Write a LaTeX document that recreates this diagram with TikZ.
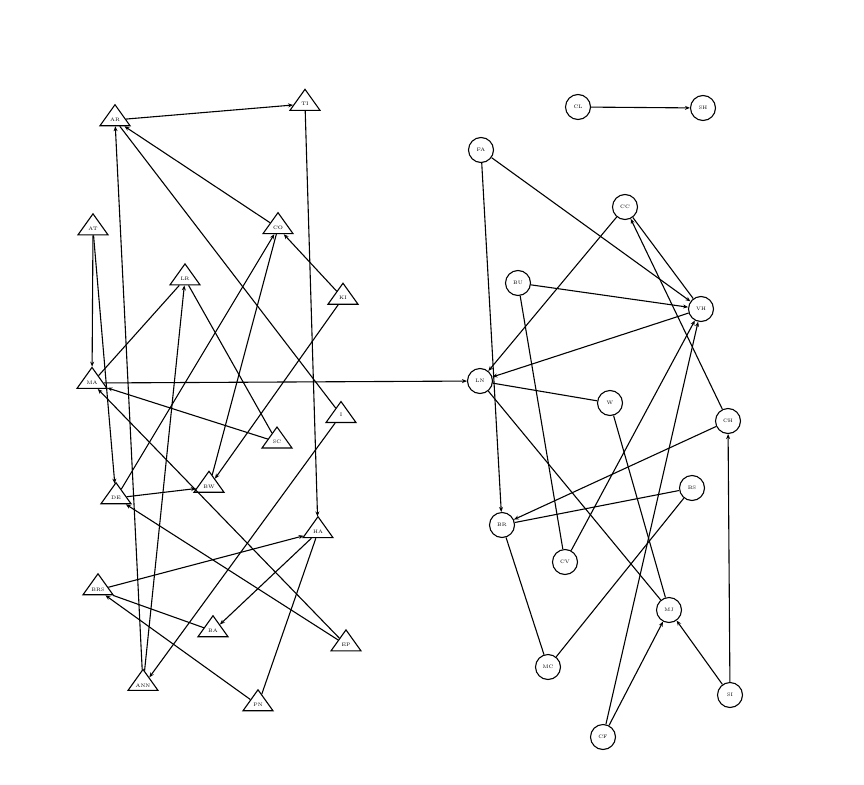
\documentclass[tikz,border=0pt]{standalone}
\usetikzlibrary{shapes.geometric,arrows.meta}
\begin{document}
\begin{tikzpicture}[x=1pt,y=-1pt]
	\useasboundingbox (0,0) rectangle (864,784);
	\begin{scope}
		[
			boy/.style={
				draw, line width=1.1pt, isosceles triangle,
				shape border rotate=90, isosceles triangle apex angle=75,
				isosceles triangle stretches, minimum width=30pt,
				minimum height=21pt, inner sep=0pt, font=\tiny
				},
			girl/.style={draw, circle, line width=1.1pt, minimum size=25pt,
				inner sep=0pt, font=\tiny},
		]
		\node(ar)[boy] at (115,120) {AR};
		\node(ti)[boy] at (305,104) {TI};
		\node(at)[boy] at (93,229) {AT};
		\node(co)[boy] at (278,228) {CO};
		\node(lr)[boy] at (185,279) {LR};
		\node(ki)[boy] at (343,298) {KI};
		\node(ma)[boy] at (92,383) {MA};
		\node(iv)[boy] at (341,415) {I};
		\node(sc)[boy] at (277,442) {SC};
		\node(de)[boy] at (116,498) {DE};
		\node(bw)[boy] at (209,487) {BW};
		\node(ha)[boy] at (318,532) {HA};
		\node(brs)[boy] at (98,590) {BRS};
		\node(ba)[boy] at (213,631) {BA};
		\node(ep)[boy] at (346,645) {EP};
		\node(ann)[boy] at (143,686) {ANN};
		\node(pn)[boy] at (258,705) {PN};

		\node(cl)[girl] at (578,107) {CL};
		\node(sh)[girl] at (703,108) {SH};
		\node(fa)[girl] at (481,150) {FA};
		\node(cc)[girl] at (625,207) {CC};
		\node(bu)[girl] at (518,283) {BU};
		\node(vh)[girl] at (701,309) {VH};
		\node(ln)[girl] at (480,381) {LN};
		\node(w)[girl] at (610,403) {W};
		\node(ch)[girl] at (728,421) {CH};
		\node(bs)[girl] at (692,488) {BS};
		\node(br)[girl] at (502,525) {BR};
		\node(cv)[girl] at (565,562) {CV};
		\node(mj)[girl] at (669,610) {MJ};
		\node(mc)[girl] at (548,667) {MC};
		\node(si)[girl] at (730,695) {SI};
		\node(cf)[girl] at (603,737) {CF};
	\end{scope}
	\begin{scope}
		[ vote/.style = {-{Stealth[length=5pt,width=4pt]}},
		tie/.style = {-}, line width=1.1pt]
		\path
		(ar) edge[vote]		(ti)
		(ti) edge[vote]		(ha)
		(co) edge[vote]		(ar)
		(ar) edge[tie]		(iv)
		(ann) edge[vote]	(ar)
		(ann) edge[vote]	(lr)
		(at) edge[vote]		(ma)
		(at) edge[vote]		(de)
		(ma) edge[tie]		(lr)
		(ma) edge[vote]		(ln)
		(sc) edge[vote]		(ma)
		(ep) edge[vote]		(ma)
		(ep) edge[vote]		(de)
		(de) edge[vote]		(bw)
		(de) edge[vote]		(co)
		(bw) edge[tie]		(co)
		(ki) edge[vote]		(bw)
		(ki) edge[vote]		(co)
		(lr) edge[tie]		(sc)
		(iv) edge[vote]		(ann)
		(brs) edge[vote]	(ha)
		(ha) edge[vote]		(ba)
		(ha) edge[tie]		(pn)
		(brs) edge[tie]		(ba)
		(pn) edge[vote]		(brs)

		(cl) edge[vote]		(sh)
		(fa) edge[vote]		(br)
		(fa) edge[vote]		(vh)
		(cc) edge[vote]		(ln)
		(cc) edge[tie]		(vh)
		(ch) edge[vote]		(cc)
		(bu) edge[vote]		(vh)
		(vh) edge[vote]		(ln)
		(bu) edge[tie]		(cv)
		(w) edge[tie]		(ln)
		(w) edge[tie]		(mj)
		(ch) edge[vote]		(br)
		(bs) edge[tie]		(br)
		(ln) edge[tie]		(mj)
		(cv) edge[vote]		(vh)
		(cf) edge[vote]		(vh)
		(cf) edge[vote]		(mj)
		(si) edge[vote]		(mj)
		(si) edge[vote]		(ch)
		(mc) edge[tie]		(bs)
		(mc) edge[tie]		(br);
	\end{scope}
\end{tikzpicture}
\end{document}
